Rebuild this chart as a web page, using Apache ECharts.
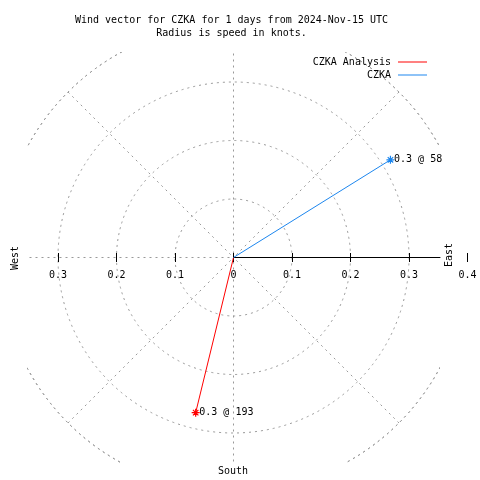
<!DOCTYPE html>
<html><head><meta charset="utf-8">
<script src="https://cdn.jsdelivr.net/npm/echarts@6/dist/echarts.min.js"></script>
<style>html,body{margin:0;padding:0;background:#fff}#c{width:480px;height:480px}</style>
</head><body><div id="c"></div>
<script>
// ---- data ----
const titleLines = ['Wind vector for CZKA for 1 days from 2024-Nov-15 UTC', 'Radius is speed in knots.'];
const seriesNames = ['CZKA Analysis', 'CZKA'];
const seriesColors = ['#ff0000', '#1c86ee'];
const speeds = [0.273, 0.316];        // knots
const directions = [193.7, 58.1];     // degrees (compass bearing)
const radiusMax = 0.4;
const radiusStep = 0.1;
const axisMin = -0.3, axisMax = 0.4;  // horizontal tick axis
const compassLabels = ['West', 'East', 'South'];

// ---- layout ----
const FONT = 'DejaVu Sans Mono';
const CX = 233.5, CY = 257.5, R = 234;
const BOX = {x0: 27, y0: 52, x1: 440, y1: 463};
const GRAY = '#999999';
const pxPer = R / radiusMax;
const ASTER = 'path://M5,0L5,10M0,5L10,5M1.6,1.6L8.4,8.4M1.6,8.4L8.4,1.6';

const chart = echarts.init(document.getElementById('c'), null, {renderer: 'canvas'});

const dashed = {color: GRAY, width: 1, type: [2, 4]};

const option = {
  animation: false,
  backgroundColor: '#fff',
  polar: {center: [CX, CY], radius: R},
  angleAxis: {
    type: 'value', min: 0, max: 360, interval: 45, startAngle: 90, clockwise: true,
    axisLine: {show: true, lineStyle: dashed},
    axisTick: {show: false}, axisLabel: {show: false},
    splitLine: {show: true, lineStyle: dashed}, z: 0
  },
  radiusAxis: {
    type: 'value', min: 0, max: radiusMax, interval: radiusStep,
    axisLine: {show: false}, axisTick: {show: false}, axisLabel: {show: false},
    splitLine: {show: true, lineStyle: dashed}, z: 0
  },
  grid: [
    {left: CX + axisMin * pxPer, width: (axisMax - axisMin) * pxPer, top: 200, height: 62, containLabel: false},
    {left: CX, width: BOX.x1 - CX, top: 200, height: CY - 200, containLabel: false}
  ],
  xAxis: [
    {
      gridIndex: 0, type: 'value', min: axisMin, max: axisMax, interval: radiusStep, z: 20,
      axisLine: {show: false},
      axisTick: {show: true, inside: true, length: 9, lineStyle: {color: '#000', width: 1}},
      splitLine: {show: false},
      axisLabel: {
        show: true, margin: 8, fontFamily: FONT, fontSize: 10, color: '#000',
        formatter: v => (Math.abs(v) < 1e-9 ? '0' : Math.abs(v).toFixed(1))
      }
    },
    {
      gridIndex: 1, type: 'value', min: 0, max: 1, z: 20,
      axisLine: {show: true, lineStyle: {color: '#000', width: 1}},
      axisTick: {show: false}, axisLabel: {show: false}, splitLine: {show: false}
    }
  ],
  yAxis: [
    {gridIndex: 0, type: 'value', show: false},
    {gridIndex: 1, type: 'value', show: false}
  ],
  legend: seriesNames.map((n, i) => ({
    data: [n], orient: 'vertical', align: 'right', right: 53, top: 57 + i * 13,
    itemWidth: 29, itemHeight: 1, itemGap: 0, icon: 'rect', z: 20,
    itemStyle: {borderWidth: 0},
    textStyle: {fontFamily: FONT, fontSize: 10, color: '#000', padding: [0, 2, 0, 0]},
    padding: 0
  })),
  graphic: [
    {type: 'rect', shape: {x: 0, y: 0, width: 480, height: BOX.y0}, style: {fill: '#fff'}, z: 10, silent: true},
    {type: 'rect', shape: {x: 0, y: BOX.y1, width: 480, height: 480 - BOX.y1}, style: {fill: '#fff'}, z: 10, silent: true},
    {type: 'rect', shape: {x: 0, y: BOX.y0, width: BOX.x0, height: BOX.y1 - BOX.y0}, style: {fill: '#fff'}, z: 10, silent: true},
    {type: 'rect', shape: {x: BOX.x1, y: BOX.y0, width: 480 - BOX.x1, height: BOX.y1 - BOX.y0}, style: {fill: '#fff'}, z: 10, silent: true},
    {type: 'text', x: 231.5, y: 20, z: 20, style: {text: titleLines[0], font: '10px ' + FONT, fill: '#000', textAlign: 'center', textVerticalAlign: 'middle'}},
    {type: 'text', x: 231.5, y: 33, z: 20, style: {text: titleLines[1], font: '10px ' + FONT, fill: '#000', textAlign: 'center', textVerticalAlign: 'middle'}},
    {type: 'text', x: 15, y: 258, rotation: Math.PI / 2, z: 20, style: {text: compassLabels[0], font: '10px ' + FONT, fill: '#000', textAlign: 'center', textVerticalAlign: 'middle'}},
    {type: 'text', x: 449, y: 255, rotation: Math.PI / 2, z: 20, style: {text: compassLabels[1], font: '10px ' + FONT, fill: '#000', textAlign: 'center', textVerticalAlign: 'middle'}},
    {type: 'text', x: 233, y: 471, z: 20, style: {text: compassLabels[2], font: '10px ' + FONT, fill: '#000', textAlign: 'center', textVerticalAlign: 'middle'}}
  ],
  series: seriesNames.map((name, i) => ({
    name, type: 'line', coordinateSystem: 'polar', polarIndex: 0, z: 30,
    symbol: ASTER, symbolSize: 8, showAllSymbol: true,
    lineStyle: {color: seriesColors[i], width: 1},
    itemStyle: {color: seriesColors[i], borderColor: seriesColors[i], borderWidth: 1.2},
    data: [
      {value: [0, directions[i]], symbol: 'none', label: {show: false}},
      {value: [speeds[i], directions[i]]}
    ],
    label: {
      show: true, position: 'right', distance: -1, fontFamily: FONT, fontSize: 10, color: '#000',
      formatter: p => speeds[i].toFixed(1) + ' @ ' + Math.floor(directions[i])
    }
  }))
};
chart.setOption(option);
</script></body></html>
